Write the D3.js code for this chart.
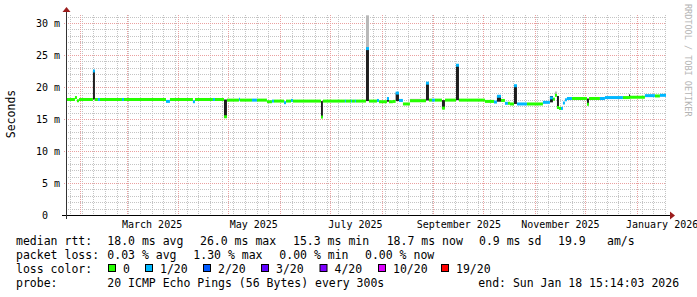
<!DOCTYPE html>
<html>
<head>
<meta charset="utf-8">
<script src="https://cdn.jsdelivr.net/npm/d3@7"></script>
<style>
  body { margin: 0; background: #fff; }
  svg { display: block; font-family: "DejaVu Sans Mono", monospace; }
</style>
</head>
<body>
<svg id="chart" width="697" height="297"></svg>
<script>
(function(){

// time window of the graph (360 days)
const startTime = "2025-01-23T15:14:03";
const endTime = "2026-01-18T15:14:03";

// each step starts at stepStart[i] and holds until the next one
const stepStart = [
  "2025-01-23T15:14","2025-01-29T00:00","2025-01-30T05:00","2025-01-31T10:00","2025-02-08T19:00",
  "2025-02-10T00:00","2025-02-11T19:00","2025-02-13T00:00","2025-02-26T05:00","2025-02-27T10:00",
  "2025-03-24T15:00","2025-03-27T00:00","2025-04-09T19:00","2025-04-11T00:00","2025-04-21T19:00",
  "2025-04-23T00:00","2025-04-28T10:00","2025-04-30T05:00","2025-05-07T10:00","2025-05-08T00:00",
  "2025-05-15T05:00","2025-05-18T05:00","2025-05-24T05:00","2025-05-27T05:00","2025-05-28T10:00",
  "2025-06-03T10:00","2025-06-04T15:00","2025-06-07T15:00","2025-06-08T19:00","2025-06-25T15:00",
  "2025-06-26T19:00","2025-07-10T00:00","2025-07-10T15:00","2025-07-13T15:00","2025-07-14T05:00",
  "2025-07-16T00:00","2025-07-16T15:00","2025-07-22T15:00","2025-07-24T10:00","2025-07-29T05:00",
  "2025-07-30T10:00","2025-08-04T05:00","2025-08-05T10:00","2025-08-07T19:00","2025-08-09T10:00",
  "2025-08-11T10:00","2025-08-13T19:00","2025-08-18T00:00","2025-08-27T15:00","2025-08-29T10:00",
  "2025-08-31T05:00","2025-09-02T00:00","2025-09-06T05:00","2025-09-08T00:00","2025-09-14T15:00",
  "2025-09-16T10:00","2025-10-02T00:00","2025-10-07T10:00","2025-10-09T05:00","2025-10-11T15:00",
  "2025-10-14T00:00","2025-10-15T19:00","2025-10-17T00:00","2025-10-19T10:00","2025-10-21T05:00",
  "2025-10-27T05:00","2025-11-05T19:00","2025-11-10T00:00","2025-11-11T19:00","2025-11-13T00:00",
  "2025-11-14T05:00","2025-11-15T10:00","2025-11-16T15:00","2025-11-17T19:00","2025-11-19T00:00",
  "2025-11-20T05:00","2025-11-23T05:00","2025-12-02T05:00","2025-12-03T10:00","2025-12-10T00:00",
  "2025-12-13T00:00","2025-12-23T19:00","2025-12-27T10:00","2025-12-28T00:00","2026-01-06T00:00",
  "2026-01-12T00:00","2026-01-15T00:00"
];

// median rtt in ms
const medianMs = [
  18.05,18.35,17.85,18.05,22.5, 18.05,18.05,18.05,18.05,18.05,
  17.75,18.05,17.7, 18.05,18.05,18.05,15.35,17.95,18.1, 17.95,
  17.95,17.95,17.7, 17.8, 17.8, 17.55,17.8, 17.9, 17.8, 15.3,
  17.8, 17.8, 17.8, 17.8, 17.8, 17.8, 17.8, 26.0, 17.8, 17.9,
  17.7, 18.2, 17.7, 17.75,19.05,17.9, 17.35,17.85,20.6, 17.95,
  17.95,17.95,16.7, 17.95,23.4, 17.95,17.75,17.65,18.55,17.9,
  17.45,17.45,17.35,20.2, 17.35,17.35,17.6, 18.3, 18.1, 18.7,
  16.8, 16.65,16.65,17.5, 18.0, 18.2, 18.2, 17.3, 18.2, 18.2,
  18.35,18.35,18.35,18.4, 18.65,18.6, 18.7
];

// packet loss bucket (index into lossLabels / lossColors)
const lossIdx = [
  0,0,0,0,1, 0,1,0,1,0,
  1,0,1,0,1, 0,0,0,1,0,
  1,0,0,1,0, 1,0,1,0,0,
  0,1,0,1,0, 1,0,1,0,1,
  0,1,0,0,1, 1,0,0,1,0,
  1,0,0,0,1, 0,0,1,1,0,
  1,0,0,1,1, 0,1,1,0,0,
  0,0,1,1,1, 1,0,0,0,1,
  1,0,0,0,1, 0,1
];

// dark smoke band (ms), null = none
const darkLo = [
  null,null,null,null,18.05, null,null,null,null,null,
  null,null,null,null,null,  null,15.35,null,null,null,
  null,null,null,null,null,  null,null,null,null,15.3,
  null,null,null,null,null,  null,null,17.8,null,null,
  null,17.7,null,null,17.8,  null,null,null,17.9,null,
  null,null,16.7,null,17.95, null,null,null,17.7,null,
  null,null,null,17.35,null, null,null,17.6,null,null,
  16.6,null,null,null,null,  null,null,17.3,null,null,
  null,null,18.35,null,null, null,null
];
const darkHi = [
  null,null,null,null,22.5,  null,null,null,null,null,
  null,null,null,null,null,  null,18.05,null,null,null,
  null,null,null,null,null,  null,null,null,null,17.8,
  null,null,null,null,null,  null,null,26.0,null,null,
  null,18.3,null,null,19.1,  null,null,null,20.6,null,
  null,null,17.95,null,23.4, null,null,null,18.6,null,
  null,null,null,20.2,null,  null,null,18.6,null,null,
  18.6,null,null,null,null,  null,null,18.2,null,null,
  null,null,18.85,null,null, null,null
];
// light smoke from the median up to this value (ms)
const paleHi = [
  null,null,null,null,null, null,null,null,null,null,
  null,null,null,null,null, null,null,null,null,null,
  null,null,null,null,null, null,null,null,null,null,
  null,null,null,null,null, null,null,31.2,null,null,
  null,null,null,null,null, null,null,18.15,null,null,
  null,null,null,null,null, null,null,null,null,null,
  null,null,null,null,null, null,null,null,null,19.3,
  null,null,null,null,null, null,null,null,null,null,
  null,null,null,null,null, null,null
];

const lossLabels = ["0","1/20","2/20","3/20","4/20","10/20","19/20"];
const lossColors = ["#26ff00","#00b8ff","#0059ff","#5e00ff","#7e00ff","#dd00ff","#ff0000"];

const yTicks = [0,5,10,15,20,25,30];
const xLabelDates = ["2025-03-16","2025-05-16","2025-07-16","2025-09-16","2025-11-16","2026-01-16"];
const xTickLabels = ["March 2025","May 2025","July 2025","September 2025","November 2025","January 2026"];

const statsRtt = ["18.0 ms avg","26.0 ms max","15.3 ms min","18.7 ms now","0.9 ms sd","19.9","am/s"];
const statsLoss = ["0.03 % avg","1.30 % max","0.00 % min","0.00 % now"];
const probeText = "20 ICMP Echo Pings (56 Bytes) every 300s";
const endText = "end: Sun Jan 18 15:14:03 2026";

// geometry
const left = 66, right = 666, top = 15, bottom = 215;

const t0 = new Date(startTime), t1 = new Date(endTime);
const x = d3.scaleTime().domain([t0, t1]).range([left, right]);
const y = d3.scaleLinear().domain([0, 31.25]).range([bottom, top]);

const svg = d3.select("#chart");
const font = '"DejaVu Sans Mono", monospace';

const steps = stepStart.map((s, i) => ({
  a: new Date(s),
  b: i < stepStart.length - 1 ? new Date(stepStart[i + 1]) : t1,
  med: medianMs[i], loss: lossIdx[i],
  lo: darkLo[i], hi: darkHi[i], pale: paleHi[i]
}));

// grid
const grid = svg.append("g");
const minorCol = "#c4c4c4", majorCol = "#eaa0a0";

d3.range(1, 32).filter(v => v % 5 !== 0).forEach(v => {
  grid.append("line").attr("x1", left).attr("x2", right)
    .attr("y1", Math.round(y(v)) + 0.5).attr("y2", Math.round(y(v)) + 0.5)
    .attr("stroke", minorCol).attr("stroke-dasharray", "1,1");
});
d3.timeSunday.range(t0, t1).forEach(d => {
  const xx = Math.round(x(d)) + 0.5;
  grid.append("line").attr("x1", xx).attr("x2", xx).attr("y1", top).attr("y2", bottom)
    .attr("stroke", minorCol).attr("stroke-dasharray", "1,1");
});
d3.timeMonth.range(t0, t1).forEach(d => {
  const xx = Math.round(x(d)) + 0.5;
  grid.append("line").attr("x1", xx).attr("x2", xx).attr("y1", top).attr("y2", bottom + 2)
    .attr("stroke", majorCol).attr("stroke-dasharray", "1,1");
});
yTicks.filter(v => v > 0).forEach(v => {
  grid.append("line").attr("x1", left - 2).attr("x2", right)
    .attr("y1", Math.round(y(v)) + 0.5).attr("y2", Math.round(y(v)) + 0.5)
    .attr("stroke", majorCol).attr("stroke-dasharray", "1,1");
});

// smoke
const smoke = svg.append("g");
steps.filter(d => d.pale != null).forEach(d => {
  smoke.append("rect").attr("x", x(d.a)).attr("width", Math.max(1, x(d.b) - x(d.a)))
    .attr("y", y(d.pale)).attr("height", y(d.med) - y(d.pale)).attr("fill", "#b8b8b8");
});
steps.filter(d => d.lo != null).forEach(d => {
  smoke.append("rect").attr("x", x(d.a)).attr("width", Math.max(1, x(d.b) - x(d.a)))
    .attr("y", y(d.hi)).attr("height", y(d.lo) - y(d.hi)).attr("fill", "#1e1e1e");
});

// median, coloured by loss
const med = svg.append("g");
steps.forEach(d => {
  med.append("line").attr("x1", x(d.a)).attr("x2", x(d.b))
    .attr("y1", y(d.med)).attr("y2", y(d.med))
    .attr("stroke", lossColors[d.loss]).attr("stroke-width", 3);
});

// axes lines + arrows
svg.append("line").attr("x1", 62).attr("x2", 670).attr("y1", bottom + 0.5).attr("y2", bottom + 0.5)
  .attr("stroke", "#000");
svg.append("line").attr("x1", left + 0.5).attr("x2", left + 0.5).attr("y1", 219).attr("y2", 11)
  .attr("stroke", "#333");
svg.append("path").attr("d", "M670,211.5L675,215.5L670,219.5Z").attr("fill", "#9b1c1c");
svg.append("path").attr("d", "M62.5,12L66.5,7L70.5,12Z").attr("fill", "#9b1c1c");

// tick labels
const yAxis = svg.append("g").attr("transform", `translate(${left},0)`)
  .call(d3.axisLeft(y).tickValues(yTicks).tickSize(0).tickPadding(6)
    .tickFormat(d => d === 0 ? "0  " : d + " m"));
yAxis.select(".domain").remove();
yAxis.selectAll("text").attr("font-family", font).attr("font-size", "10px")
  .attr("fill", "#000").style("white-space", "pre").attr("xml:space", "preserve");

const xAxis = svg.append("g").attr("transform", `translate(0,${bottom})`)
  .call(d3.axisBottom(x).tickValues(xLabelDates.map(s => new Date(s + "T00:00")))
    .tickSize(0).tickPadding(6).tickFormat((d, i) => xTickLabels[i]));
xAxis.select(".domain").remove();
xAxis.selectAll("text").attr("font-family", font).attr("font-size", "10px").attr("fill", "#000");

// axis title + watermark
svg.append("text").attr("transform", "translate(15,114) rotate(-90)")
  .attr("text-anchor", "middle").attr("font-size", "11.5px").text("Seconds");
svg.append("text").attr("transform", "translate(685,4) rotate(90)")
  .attr("font-size", "8.5px").attr("fill", "#b4b4b4").text("RRDTOOL / TOBI OETIKER");

// legend
const leg = svg.append("g").attr("font-size", "11.5px").attr("fill", "#000");
const put = (tx, xx, yy) => leg.append("text").attr("x", xx).attr("y", yy)
  .style("white-space", "pre").text(tx);

put("median rtt:", 16, 245);
[107.3, 200, 293, 386.7, 479, 558, 607].forEach((xx, i) => put(statsRtt[i], xx, 245));

put("packet loss:", 16, 259);
[107.3, 193.3, 279.3, 365].forEach((xx, i) => put(statsLoss[i], xx, 259));

put("loss color:", 16, 273);
const boxX = [108.5, 145.5, 203.5, 261.5, 320, 378.5, 441.5];
lossLabels.forEach((l, i) => {
  leg.append("rect").attr("x", boxX[i]).attr("y", 264.5).attr("width", 7).attr("height", 7)
    .attr("fill", lossColors[i]).attr("stroke", "#000").attr("stroke-width", 1);
  put(l, boxX[i] + 14.5, 273);
});

put("probe:", 16, 287);
put(probeText, 107.3, 287);
put(endText, 478.3, 287);

})();
</script>
</body>
</html>
